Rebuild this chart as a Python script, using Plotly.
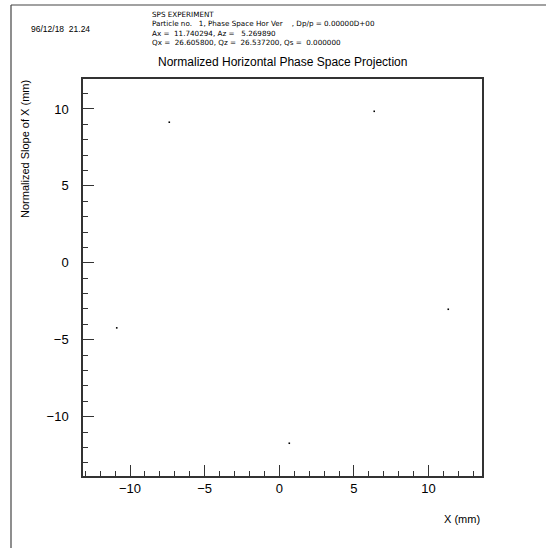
import plotly.graph_objects as go

# Data
x_mm = [-7.37, 6.36, -10.89, 11.32, 0.67]
slope = [9.14, 9.85, -4.23, -3.02, -11.73]

x_range = [-13.15, 13.58]
y_range = [-13.86, 11.95]

header_lines = [
    "SPS EXPERIMENT",
    "Particle no.   1, Phase Space Hor Ver    , Dp/p = 0.00000D+00",
    "Ax =  11.740294, Az =   5.269890",
    "Qx =  26.605800, Qz =  26.537200, Qs =  0.000000",
]
date_text = "96/12/18  21.24"
title_text = "Normalized Horizontal Phase Space Projection"
x_title = "X (mm)"
y_title = "Normalized Slope of X (mm)"

W, H = 546, 548
L, R, T, B = 83, 482, 79, 476
pw, ph = R - L, B - T

def px(x):
    return (x - L) / pw

def py(y):
    return (B - y) / ph

FONT = "Liberation Sans"

fig = go.Figure()
fig.add_trace(go.Scatter(
    x=x_mm, y=slope, mode="markers",
    marker=dict(size=1.6, color="black", symbol="square", line=dict(width=0)),
    showlegend=False, hoverinfo="skip",
))

axis_common = dict(
    showgrid=False, zeroline=False, showline=True, mirror=True,
    linecolor="#333333", linewidth=1.5,
    ticks="inside", ticklen=11, tickwidth=1.2, tickcolor="#333333",
    dtick=5, tick0=0,
    minor=dict(dtick=1, tick0=0, ticks="inside", ticklen=5, tickwidth=1, tickcolor="#333333", showgrid=False),
    tickfont=dict(family=FONT, size=13, color="black"),
)

fig.update_xaxes(range=x_range, **axis_common)
fig.update_yaxes(range=y_range, ticklabelstandoff=10, **axis_common)

annotations = []
annotations.append(dict(x=px(29), y=py(29), text=date_text, xanchor="left", yanchor="middle",
                        font=dict(family=FONT, size=8.5, color="black")))
annotations.append(dict(x=px(150), y=py(8), text="<br>".join(header_lines), xanchor="left", yanchor="top",
                        align="left", font=dict(family="DejaVu Sans", size=7.2, color="black")))
annotations.append(dict(x=px(282), y=py(62), text=title_text, xanchor="center", yanchor="middle",
                        font=dict(family=FONT, size=12, color="black")))
annotations.append(dict(x=px(482), y=py(519), text=x_title, xanchor="right", yanchor="middle",
                        font=dict(family=FONT, size=11, color="black")))
annotations.append(dict(x=px(25), y=py(149), text=y_title, textangle=-90, xanchor="center", yanchor="middle",
                        font=dict(family=FONT, size=11, color="black")))
for a in annotations:
    a.update(xref="paper", yref="paper", showarrow=False)

border = dict(color="#444444", width=1.2)
fig.update_layout(
    width=W, height=H,
    margin=dict(l=L, r=W - R, t=T, b=H - B, pad=0),
    paper_bgcolor="white", plot_bgcolor="white",
    annotations=annotations,
    shapes=[
        dict(type="line", xref="paper", yref="paper", x0=px(11), x1=px(W + 20), y0=py(5), y1=py(5), line=border),
        dict(type="line", xref="paper", yref="paper", x0=px(11), x1=px(11), y0=py(5), y1=py(H + 20), line=border),
    ],
)

fig.write_html("out.html", config={"displayModeBar": False},
               post_script="document.body.style.margin='0';document.body.style.overflow='hidden';")
